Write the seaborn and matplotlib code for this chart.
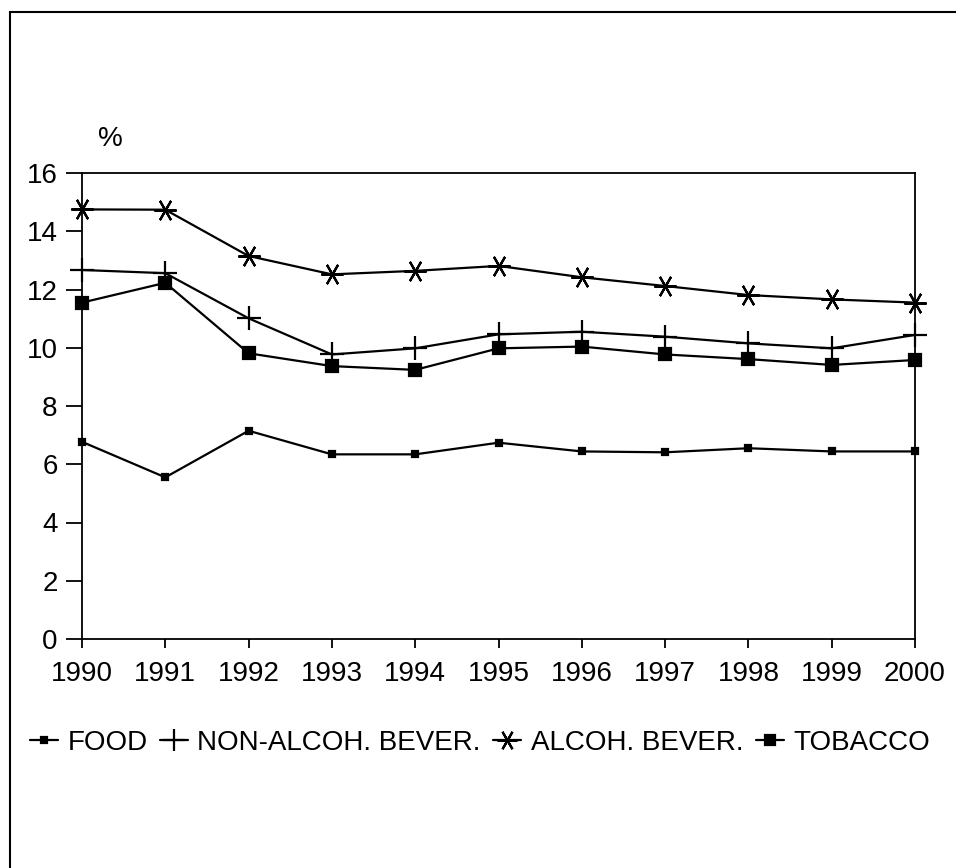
"""Share of household spending, 1990-2000."""

import pandas as pd
import seaborn as sns
import matplotlib.pyplot as plt
from matplotlib.patches import Rectangle

YEARS = list(range(1990, 2001))
FOOD = [6.77, 5.55, 7.15, 6.34, 6.34, 6.74, 6.44, 6.41, 6.55, 6.44, 6.44]
NON_ALCOH = [12.67, 12.56, 11.01, 9.77, 9.98, 10.46, 10.55, 10.38, 10.15, 9.98, 10.44]
ALCOH = [14.75, 14.74, 13.15, 12.52, 12.64, 12.81, 12.42, 12.12, 11.81, 11.66, 11.55]
TOBACCO = [11.55, 12.23, 9.81, 9.37, 9.24, 9.98, 10.04, 9.77, 9.61, 9.41, 9.58]

LABELS = ["FOOD", "NON-ALCOH. BEVER.", "ALCOH. BEVER.", "TOBACCO"]
SERIES = [FOOD, NON_ALCOH, ALCOH, TOBACCO]
MARKERS = ["s", "+", (6, 2, 90), "s"]
SIZES = [4.5, 17, 16, 8.5]

df = pd.DataFrame({"Year": YEARS})
for lab, vals in zip(LABELS, SERIES):
    df[lab] = vals

sns.set_style("white")
plt.rcParams["font.family"] = ["Liberation Sans", "DejaVu Sans"]
plt.rcParams["text.color"] = "black"
plt.rcParams["xtick.color"] = "black"
plt.rcParams["ytick.color"] = "black"

fig = plt.figure(figsize=(9.56, 8.68), dpi=100)
ax = fig.add_axes([82 / 956, 1 - 639 / 868, (915 - 82) / 956, (639 - 173) / 868])

for lab, mk, ms in zip(LABELS, MARKERS, SIZES):
    sns.lineplot(data=df, x="Year", y=lab, ax=ax, color="black", linewidth=1.6,
                 marker=mk, markersize=ms, markeredgewidth=1.6,
                 markeredgecolor="black", markerfacecolor="black",
                 label=lab, clip_on=False)

ax.set_xlim(1990, 2000)
ax.set_ylim(0, 16)
ax.set_xticks(YEARS)
ax.set_yticks(range(0, 17, 2))
ax.set_xlabel("")
ax.set_ylabel("")
for sp in ax.spines.values():
    sp.set_color("black")
    sp.set_linewidth(1.3)
ax.tick_params(axis="y", direction="out", length=11.5, width=1.3,
               pad=6, labelsize=20, left=True)
ax.tick_params(axis="x", direction="out", length=6.5, width=1.3,
               pad=9, labelsize=20, bottom=True)

fig.text(110 / 956, 1 - 139 / 868, "%", fontsize=20, ha="center", va="center")

handles, labels = ax.get_legend_handles_labels()
ax.get_legend().remove()
fig.legend(handles, labels, loc="center", bbox_to_anchor=(0.502, 1 - 743 / 868),
           ncol=4, frameon=False, fontsize=20, handlelength=1.0,
           handletextpad=0.35, columnspacing=0.45, markerscale=0.9)

# frame around the whole figure (only left and top visible in the scan)
fig.patches.append(Rectangle((10 / 956, -0.1), 1.2, 1 - 12 / 868 + 0.1,
                             transform=fig.transFigure, fill=False,
                             edgecolor="black", linewidth=1.5))

plt.savefig("out.png", dpi=100)
